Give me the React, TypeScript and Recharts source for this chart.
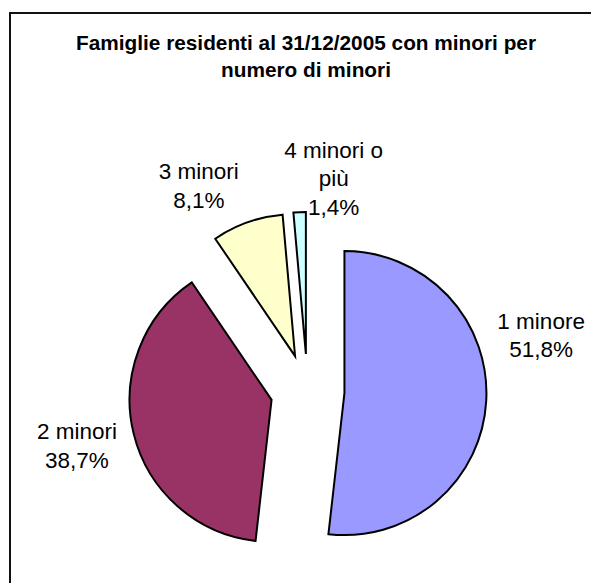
import { PieChart, Pie, Cell } from 'recharts'

const CATEGORIES = ['1 minore', '2 minori', '3 minori', '4 minori o più']
const SHARES = [51.8, 38.7, 8.1, 1.4]
const COLORS = ['#9999FF', '#993366', '#FFFFCC', '#CCFFFF']
const TITLE = ['Famiglie residenti al 31/12/2005 con minori per', 'numero di minori']

const WIDTH = 591
const HEIGHT = 583
const CX = 307.5
const CY = 391
const RADIUS = 142
const EXPLODE = 37
const FONT = '"Liberation Sans", Arial, sans-serif'
const LABEL_SIZE = 22.5

// where each label sits relative to its slice: angle shift (deg, clockwise) and gap past the rim
const LABEL_SHIFT = [-19.6, 0.6, -9.8, 11.5]
const LABEL_GAP = [63, 58, 54, 36]

const total = SHARES.reduce((a, b) => a + b, 0)
let acc = 0
const slices = SHARES.map((value, i) => {
  const start = 90 - (acc / total) * 360
  acc += value
  const end = 90 - (acc / total) * 360
  const mid = (((start + end) / 2) * Math.PI) / 180
  return {
    name: CATEGORIES[i],
    value,
    color: COLORS[i],
    start,
    end,
    cx: CX + EXPLODE * Math.cos(mid),
    cy: CY - EXPLODE * Math.sin(mid),
  }
})

function wrap(text: string, max = 10): string[] {
  const out: string[] = []
  let line = ''
  for (const w of text.split(' ')) {
    const next = line ? `${line} ${w}` : w
    if (next.length > max && line) {
      out.push(line)
      line = w
    } else line = next
  }
  if (line) out.push(line)
  return out
}

const pct = (v: number) => `${v.toFixed(1).replace('.', ',')}%`

function makeLabel(i: number) {
  return (props: any) => {
    const s = slices[i]
    const cx = typeof props.cx === 'number' ? props.cx : s.cx
    const cy = typeof props.cy === 'number' ? props.cy : s.cy
    const outer = typeof props.outerRadius === 'number' ? props.outerRadius : RADIUS
    const a = (((s.start + s.end) / 2 - LABEL_SHIFT[i]) * Math.PI) / 180
    const r = outer + LABEL_GAP[i]
    const x = cx + r * Math.cos(a)
    const y = cy - r * Math.sin(a)
    const lines = [...wrap(s.name), pct(s.value)]
    const lh = 28.5
    return (
      <text x={x} y={y} textAnchor="middle" fontSize={LABEL_SIZE} fontFamily={FONT} fill="#000">
        {lines.map((l, k) => (
          <tspan key={k} x={x} y={y + (k - (lines.length - 1) / 2) * lh + LABEL_SIZE * 0.35}>
            {l}
          </tspan>
        ))}
      </text>
    )
  }
}

export default function App() {
  return (
    <div
      style={{
        position: 'absolute',
        left: 0,
        top: 0,
        width: WIDTH,
        height: HEIGHT,
        overflow: 'hidden',
        background: '#fff',
      }}
    >
      <div
        style={{
          position: 'absolute',
          left: 9,
          top: 12,
          width: 700,
          height: 700,
          border: '2px solid #111',
        }}
      />
      <div
        style={{
          position: 'absolute',
          left: 0,
          top: 29,
          width: 612,
          textAlign: 'center',
          fontFamily: FONT,
          fontWeight: 'bold',
          fontSize: 20.8,
          lineHeight: '27px',
          color: '#000',
        }}
      >
        {TITLE.map((t) => (
          <div key={t}>{t}</div>
        ))}
      </div>
      <div style={{ position: 'absolute', left: 0, top: 0 }}>
        <PieChart width={WIDTH} height={HEIGHT} margin={{ top: 0, right: 0, bottom: 0, left: 0 }}>
          {slices.map((s, i) => (
            <Pie
              key={s.name}
              data={[{ name: s.name, value: s.value }]}
              dataKey="value"
              nameKey="name"
              cx={s.cx}
              cy={s.cy}
              outerRadius={RADIUS}
              innerRadius={0}
              startAngle={s.start}
              endAngle={s.end}
              stroke="#000"
              strokeWidth={2}
              label={makeLabel(i)}
              labelLine={false}
              isAnimationActive={false}
            >
              <Cell fill={s.color} stroke="#000" strokeWidth={2} />
            </Pie>
          ))}
        </PieChart>
      </div>
    </div>
  )
}
